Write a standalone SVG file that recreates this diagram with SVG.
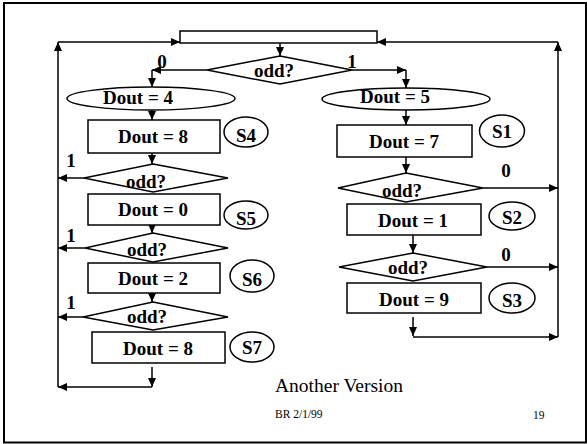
<svg xmlns="http://www.w3.org/2000/svg" width="587" height="444" viewBox="0 0 587 444">
<style>
.s{fill:#fff;stroke:#000;stroke-width:1.5}
.c{fill:none;stroke:#000;stroke-width:1.5}
.b{font-family:"Liberation Serif","Times New Roman",serif;font-weight:bold;font-size:19px;fill:#000;text-anchor:middle}
.n{font-family:"Liberation Serif","Times New Roman",serif;fill:#000}
</style>
<defs>
<marker id="a" markerUnits="userSpaceOnUse" markerWidth="10" markerHeight="8" refX="9" refY="4" orient="auto">
<path d="M0,0 L9,4 L0,8 z" fill="#000"/>
</marker>
</defs>
<rect x="4" y="3" width="582" height="439.5" fill="none" stroke="#000" stroke-width="2"/>
<g id="connectors" class="c" marker-end="url(#a)">
<path d="M280,43 L280,56"/>
<path d="M207,70 L152,70"/>
<path d="M152,70 L152,87"/>
<path d="M352,70 L406,70"/>
<path d="M406,70 L406,88"/>
<path d="M152,110 L152,120"/>
<path d="M152,153 L152,164"/>
<path d="M84,178 L58,178"/>
<path d="M152,225 L152,233"/>
<path d="M85,248 L58,248"/>
<path d="M152,293 L152,302"/>
<path d="M83,317 L58,317"/>
<path d="M152,367 L152,387"/>
<path d="M152,387 L58,387"/>
<path d="M58,387 L58,42"/>
<path d="M58,42 L180,42"/>
<path d="M406,110 L406,125"/>
<path d="M406,157 L406,173"/>
<path d="M483,188 L558,188"/>
<path d="M413,235 L413,253"/>
<path d="M487,267 L558,267"/>
<path d="M413,317 L413,336"/>
<path d="M413,337 L558,337"/>
<path d="M558,337 L558,42"/>
<path d="M558,42 L377,42"/>
</g>
<g id="start"><rect class="s" x="180" y="31" width="197" height="12"/></g>
<g id="d0"><polygon class="s" points="280,56 352,70 280,84 207,70"/><text class="b" x="274" y="77">odd?</text></g>
<g id="l0"><text class="b" x="162" y="68">0</text></g>
<g id="l1"><text class="b" x="352" y="68">1</text></g>
<g id="e4"><ellipse class="s" cx="151" cy="98.5" rx="84" ry="11.5"/><text class="b" x="138" y="104">Dout = 4</text></g>
<g id="e5"><ellipse class="s" cx="406" cy="99" rx="84" ry="11"/><text class="b" x="395" y="103">Dout = 5</text></g>
<g id="b8"><rect class="s" x="88" y="120" width="132" height="33"/><text class="b" x="153" y="143">Dout = 8</text></g>
<g id="s4"><ellipse class="s" cx="246" cy="132" rx="22" ry="15"/><text class="b" x="246" y="142">S4</text></g>
<g id="d1"><polygon class="s" points="153,164 228,178 153,192 84,178"/><text class="b" x="146" y="188">odd?</text></g>
<g id="l2"><text class="b" x="71" y="167">1</text></g>
<g id="b0"><rect class="s" x="88" y="194" width="132" height="31"/><text class="b" x="153" y="216">Dout = 0</text></g>
<g id="s5"><ellipse class="s" cx="246" cy="215" rx="22" ry="14"/><text class="b" x="246" y="225">S5</text></g>
<g id="d2"><polygon class="s" points="153,233 228,248 153,262 85,248"/><text class="b" x="147" y="256">odd?</text></g>
<g id="l3"><text class="b" x="71" y="242">1</text></g>
<g id="b2"><rect class="s" x="88" y="263" width="132" height="30"/><text class="b" x="153" y="285">Dout = 2</text></g>
<g id="s6"><ellipse class="s" cx="252" cy="276" rx="22" ry="16"/><text class="b" x="252" y="286">S6</text></g>
<g id="d3"><polygon class="s" points="153,302 228,317 153,330 83,317"/><text class="b" x="147" y="323">odd?</text></g>
<g id="l4"><text class="b" x="71" y="309">1</text></g>
<g id="b8b"><rect class="s" x="92" y="332" width="133" height="31"/><text class="b" x="158" y="355">Dout = 8</text></g>
<g id="s7"><ellipse class="s" cx="252" cy="347" rx="22" ry="15"/><text class="b" x="252" y="354">S7</text></g>
<g id="b7"><rect class="s" x="337" y="125" width="135" height="32"/><text class="b" x="404" y="148">Dout = 7</text></g>
<g id="s1"><ellipse class="s" cx="502" cy="131" rx="22.5" ry="16"/><text class="b" x="502" y="138">S1</text></g>
<g id="d4"><polygon class="s" points="406,173 483,188 406,202 338,188"/><text class="b" x="402" y="197">odd?</text></g>
<g id="l5"><text class="b" x="506" y="177">0</text></g>
<g id="b1"><rect class="s" x="347" y="204" width="134" height="31"/><text class="b" x="413" y="227">Dout = 1</text></g>
<g id="s2"><ellipse class="s" cx="512" cy="216" rx="23" ry="14"/><text class="b" x="512" y="224">S2</text></g>
<g id="d5"><polygon class="s" points="413,253 487,267 413,281 339,267"/><text class="b" x="408" y="274">odd?</text></g>
<g id="l6"><text class="b" x="506" y="261">0</text></g>
<g id="b9"><rect class="s" x="347" y="283" width="134" height="30"/><text class="b" x="414" y="306">Dout = 9</text></g>
<g id="s3"><ellipse class="s" cx="512" cy="298" rx="23" ry="15"/><text class="b" x="512" y="307">S3</text></g>
<text class="n" x="275" y="392" font-size="19.5">Another Version</text>
<text class="n" x="275" y="418" font-size="11.5">BR 2/1/99</text>
<text class="n" x="533" y="419" font-size="11.5">19</text>
</svg>
